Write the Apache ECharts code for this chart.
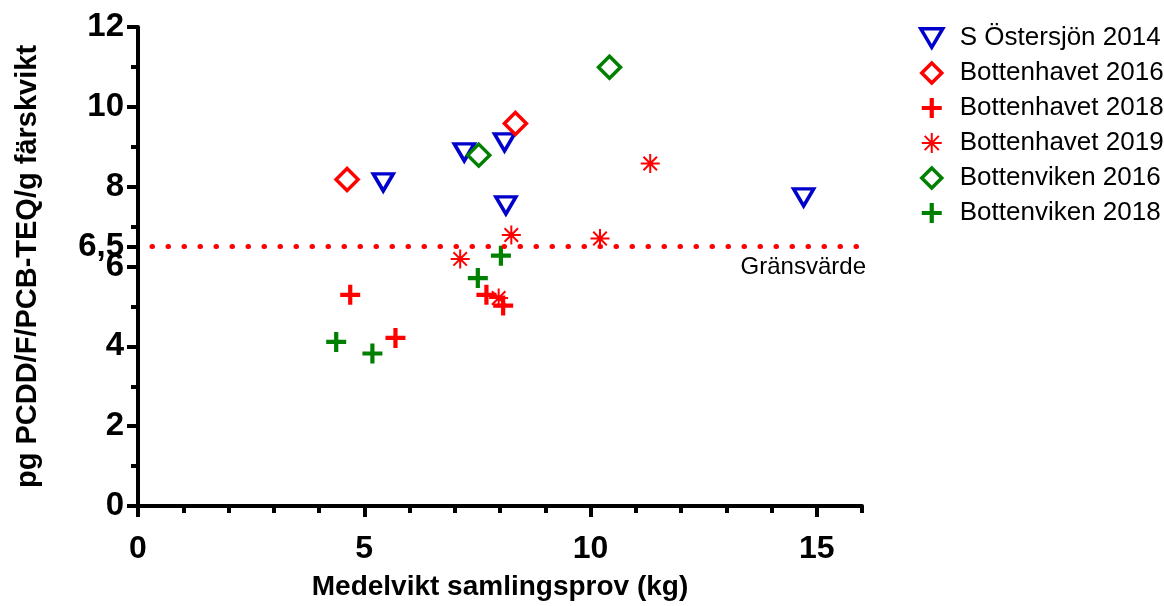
<!DOCTYPE html>
<html>
<head>
<meta charset="utf-8">
<script src="https://cdn.jsdelivr.net/npm/echarts@6/dist/echarts.min.js"></script>
<style>
html,body{margin:0;padding:0;background:#fff;}
#chart{width:1164px;height:606px;}
</style>
</head>
<body>
<div id="chart"></div>
<script>
// ---- Data ----
const seriesNames = ['S Östersjön 2014','Bottenhavet 2016','Bottenhavet 2018','Bottenhavet 2019','Bottenviken 2016','Bottenviken 2018'];
const sOstersjon2014 = [[5.42,8.11],[7.21,8.86],[8.10,9.11],[8.13,7.53],[14.71,7.73]];
const bottenhavet2016 = [[4.62,8.18],[8.34,9.58]];
const bottenhavet2018 = [[4.69,5.29],[5.69,4.21],[7.70,5.29],[8.07,5.02]];
const bottenhavet2019 = [[7.12,6.19],[8.25,6.79],[7.97,5.21],[10.21,6.70],[11.32,8.58]];
const bottenviken2016 = [[7.53,8.79],[10.42,10.99]];
const bottenviken2018 = [[4.38,4.11],[5.18,3.82],[7.51,5.71],[8.02,6.27]];
const limitValue = 6.5;
const limitLabel = 'Gränsvärde';
const limitTickLabel = '6,5';
const xMajorTicks = [0,5,10,15];
const xTitle = 'Medelvikt samlingsprov (kg)';
const yTitle = 'pg PCDD/F/PCB-TEQ/g färskvikt';

// ---- Styles ----
const FONT = '"Liberation Sans", Arial, sans-serif';
const BLUE = '#0000CC', RED = '#FF0000', GREEN = '#008000';
const TRI_DOWN = 'path://M0,0L20,0L10,17Z';
const DIAMOND = 'path://M10,0L20,10L10,20L0,10Z';
const PLUS = 'path://M7.5,0h4v7.5h7.5v4h-7.5v7.5h-4v-7.5h-7.5v-4h7.5z';
const STAR = 'path://M10,0V20M0,10H20M2.9,2.9L17.1,17.1M17.1,2.9L2.9,17.1';

function hollow(name, data, symbol, color, size, bw){
  return {name, type:'scatter', data, symbol, symbolSize:size, xAxisIndex:0, yAxisIndex:0,
    itemStyle:{color:'rgba(255,255,255,0)', borderColor:color, borderWidth:bw, opacity:1},
    emphasis:{disabled:true}};
}
function filled(name, data, symbol, color, size){
  return {name, type:'scatter', data, symbol, symbolSize:size, xAxisIndex:0, yAxisIndex:0,
    itemStyle:{color:color, opacity:1}, emphasis:{disabled:true}};
}
const legendBorder = [3.5, 3.5, 0, 2, 3.5, 0];

const axisLineStyle = {color:'#000', width:4};
const chart = echarts.init(document.getElementById('chart'), null, {renderer:'canvas'});
const s0 = hollow(seriesNames[0], sOstersjon2014, TRI_DOWN, BLUE, [20,17], 3.5);
s0.markLine = {
  silent:true, symbol:['none','none'],
  lineStyle:{color:RED, width:5, type:[0.5,15.5], cap:'round', dashOffset:2},
  label:{show:true, position:'insideEndBottom', formatter:limitLabel, color:'#000', fontSize:24, fontFamily:FONT, distance:[-4,9]},
  data:[{yAxis:limitValue}]
};
chart.setOption({
  animation:false,
  textStyle:{fontFamily:FONT},
  grid:{left:138, right:302, top:27, bottom:98, containLabel:false},
  legend:{
    orient:'vertical', left:914, top:20, itemGap:9, itemWidth:22, itemHeight:20,
    textStyle:{fontSize:26, color:'#000', fontFamily:FONT, padding:[0,0,0,12]},
    data:seriesNames.map((n,i) => legendBorder[i] ? {name:n, itemStyle:{borderWidth:legendBorder[i]}} : {name:n})
  },
  xAxis:[{
    type:'value', min:0, max:16, interval:1, position:'bottom',
    axisLine:{show:true, lineStyle:axisLineStyle},
    axisTick:{show:true, length:7, lineStyle:{color:'#000', width:4}},
    axisLabel:{fontSize:32, fontWeight:'bold', color:'#000', fontFamily:FONT, margin:27,
      formatter:v => xMajorTicks.indexOf(v) >= 0 ? String(v) : ''},
    splitLine:{show:false},
    name:xTitle, nameLocation:'middle', nameGap:67,
    nameTextStyle:{fontSize:28, fontWeight:'bold', color:'#000', fontFamily:FONT}
  },{
    type:'value', min:0, max:16, interval:5, position:'bottom',
    axisLine:{show:false},
    axisTick:{show:true, length:11, customValues:xMajorTicks, lineStyle:{color:'#000', width:4}},
    axisLabel:{show:false},
    splitLine:{show:false}
  }],
  yAxis:[{
    type:'value', min:0, max:12, interval:2, position:'left',
    axisLine:{show:true, lineStyle:axisLineStyle},
    axisTick:{show:true, length:11, lineStyle:{color:'#000', width:4}},
    minorTick:{show:true, splitNumber:2, length:7, lineStyle:{color:'#000', width:4}},
    axisLabel:{fontSize:33, fontWeight:'bold', color:'#000', fontFamily:FONT, margin:14},
    splitLine:{show:false}, minorSplitLine:{show:false},
    name:yTitle, nameLocation:'middle', nameGap:96,
    nameTextStyle:{fontSize:29, fontWeight:'bold', color:'#000', fontFamily:FONT}
  },{
    type:'value', min:0, max:12, position:'left',
    axisLine:{show:false},
    axisTick:{show:true, length:11, customValues:[limitValue], lineStyle:{color:'#000', width:4}},
    axisLabel:{show:true, customValues:[limitValue], formatter:() => limitTickLabel,
      fontSize:33, fontWeight:'bold', color:'#000', fontFamily:FONT, margin:14},
    splitLine:{show:false}
  }],
  series:[
    s0,
    hollow(seriesNames[1], bottenhavet2016, DIAMOND, RED, 22, 3.5),
    filled(seriesNames[2], bottenhavet2018, PLUS, RED, 20),
    hollow(seriesNames[3], bottenhavet2019, STAR, RED, 19, 2),
    hollow(seriesNames[4], bottenviken2016, DIAMOND, GREEN, 22, 3.5),
    filled(seriesNames[5], bottenviken2018, PLUS, GREEN, 20)
  ]
});
</script>
</body>
</html>
